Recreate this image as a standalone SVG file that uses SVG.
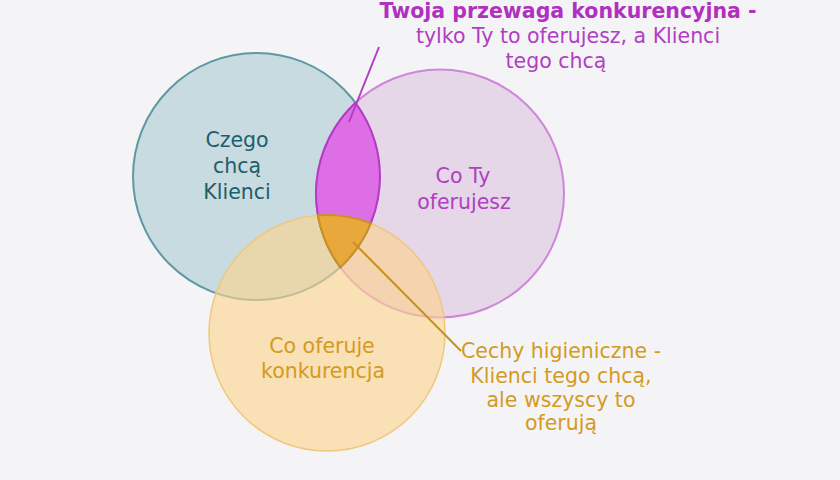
<svg xmlns="http://www.w3.org/2000/svg" width="840" height="480" viewBox="0 0 840 480">
<style>
text{font-family:"DejaVu Sans","Noto Sans",sans-serif;font-size:20.5px;text-anchor:middle}
.blue{fill:#1d5e6c}
.purple{fill:#b03fc1}
.orange{fill:#d49a22}
.title{font-weight:bold;fill:#b030c0;font-size:20.5px}
.lead{fill:none;stroke-width:2}
</style>
<rect width="840" height="480" fill="#f4f4f6"/>
<g id="circle-klienci">
<circle cx="256.5" cy="176.5" r="123.5" fill="#c8dbe1" stroke="#5e98a4" stroke-width="2"/>
</g>
<g id="circle-ty">
<circle cx="440" cy="193.5" r="124" fill="#e4d4e7" fill-opacity="0.95" stroke="#cf86da" stroke-width="2"/>
</g>
<g id="circle-konkurencja">
<circle cx="327" cy="333" r="118" fill="#fcd48c" fill-opacity="0.62" stroke="#f0c77e" stroke-width="1.5"/>
</g>
<g id="lens-przewaga">
<path d="M355.5,102.8 A123.5,123.5 0 0 1 340.3,267.2 A124,124 0 0 1 355.5,102.8 Z" fill="#dd6ee6" stroke="#b43ac4" stroke-width="2"/>
</g>
<g id="region-higieniczne">
<path d="M317.9,215.3 A118,118 0 0 1 370.7,223.4 A123.5,123.5 0 0 1 340.3,267.2 A124,124 0 0 1 317.9,215.3 Z" fill="#e9a83c" stroke="#c8941e" stroke-width="2"/>
</g>
<g id="connectors">
<line class="lead" x1="379" y1="47" x2="349" y2="122" stroke="#b33cc4"/>
<line class="lead" x1="353" y1="242" x2="461" y2="351" stroke="#c8901a"/>
</g>
<g id="label-klienci">
<text class="blue" x="237" y="147">Czego</text>
<text class="blue" x="237" y="173">chcą</text>
<text class="blue" x="237" y="199">Klienci</text>
</g>
<g id="label-ty">
<text class="purple" x="463" y="183">Co Ty</text>
<text class="purple" x="464" y="209">oferujesz</text>
</g>
<g id="label-konkurencja">
<text class="orange" x="322" y="353">Co oferuje</text>
<text class="orange" x="323" y="378">konkurencja</text>
</g>
<g id="label-przewaga">
<text class="title" x="568" y="18">Twoja przewaga konkurencyjna -</text>
<text class="purple" x="568" y="43">tylko Ty to oferujesz, a Klienci</text>
<text class="purple" x="556" y="68">tego chcą</text>
</g>
<g id="label-higieniczne">
<text class="orange" x="561" y="358">Cechy higieniczne -</text>
<text class="orange" x="561" y="383">Klienci tego chcą,</text>
<text class="orange" x="561" y="407">ale wszyscy to</text>
<text class="orange" x="561" y="430">oferują</text>
</g>
</svg>
